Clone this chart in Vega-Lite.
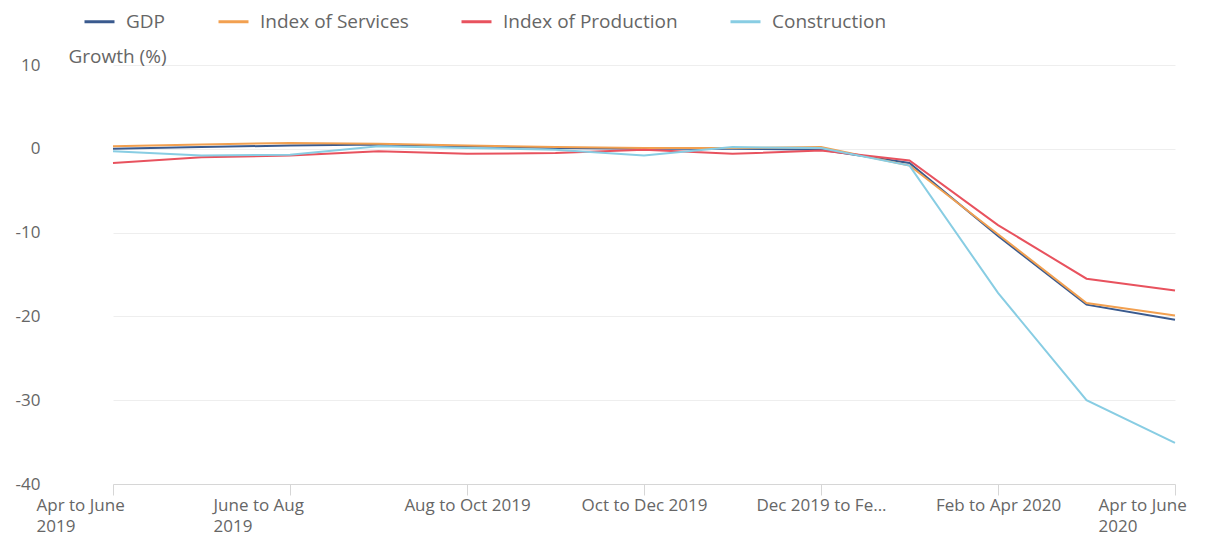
{
  "$schema": "https://vega.github.io/schema/vega-lite/v6.json",
  "width": 1144,
  "height": 419,
  "autosize": {"type": "none"},
  "padding": {"left": 68, "top": 65, "right": 0, "bottom": 51},
  "background": "white",
  "config": {
    "view": {"stroke": null},
    "font": "Open Sans",
    "axis": {"labelFont": "Open Sans", "titleFont": "Open Sans"},
    "legend": {"labelFont": "Open Sans"}
  },
  "data": {
    "values": [
      {"period": "Apr to June 2019", "series": "GDP", "growth": 0.0},
      {"period": "May to July 2019", "series": "GDP", "growth": 0.2},
      {"period": "June to Aug 2019", "series": "GDP", "growth": 0.4},
      {"period": "July to Sept 2019", "series": "GDP", "growth": 0.5},
      {"period": "Aug to Oct 2019", "series": "GDP", "growth": 0.3},
      {"period": "Sept to Nov 2019", "series": "GDP", "growth": 0.1},
      {"period": "Oct to Dec 2019", "series": "GDP", "growth": 0.0},
      {"period": "Nov 2019 to Jan 2020", "series": "GDP", "growth": 0.0},
      {"period": "Dec 2019 to Feb 2020", "series": "GDP", "growth": -0.1},
      {"period": "Jan to Mar 2020", "series": "GDP", "growth": -1.7},
      {"period": "Feb to Apr 2020", "series": "GDP", "growth": -10.4},
      {"period": "Mar to May 2020", "series": "GDP", "growth": -18.6},
      {"period": "Apr to June 2020", "series": "GDP", "growth": -20.4},

      {"period": "Apr to June 2019", "series": "Index of Services", "growth": 0.3},
      {"period": "May to July 2019", "series": "Index of Services", "growth": 0.5},
      {"period": "June to Aug 2019", "series": "Index of Services", "growth": 0.7},
      {"period": "July to Sept 2019", "series": "Index of Services", "growth": 0.6},
      {"period": "Aug to Oct 2019", "series": "Index of Services", "growth": 0.4},
      {"period": "Sept to Nov 2019", "series": "Index of Services", "growth": 0.2},
      {"period": "Oct to Dec 2019", "series": "Index of Services", "growth": 0.1},
      {"period": "Nov 2019 to Jan 2020", "series": "Index of Services", "growth": 0.1},
      {"period": "Dec 2019 to Feb 2020", "series": "Index of Services", "growth": 0.2},
      {"period": "Jan to Mar 2020", "series": "Index of Services", "growth": -2.0},
      {"period": "Feb to Apr 2020", "series": "Index of Services", "growth": -10.2},
      {"period": "Mar to May 2020", "series": "Index of Services", "growth": -18.4},
      {"period": "Apr to June 2020", "series": "Index of Services", "growth": -19.9},

      {"period": "Apr to June 2019", "series": "Index of Production", "growth": -1.7},
      {"period": "May to July 2019", "series": "Index of Production", "growth": -1.0},
      {"period": "June to Aug 2019", "series": "Index of Production", "growth": -0.8},
      {"period": "July to Sept 2019", "series": "Index of Production", "growth": -0.3},
      {"period": "Aug to Oct 2019", "series": "Index of Production", "growth": -0.6},
      {"period": "Sept to Nov 2019", "series": "Index of Production", "growth": -0.5},
      {"period": "Oct to Dec 2019", "series": "Index of Production", "growth": -0.1},
      {"period": "Nov 2019 to Jan 2020", "series": "Index of Production", "growth": -0.6},
      {"period": "Dec 2019 to Feb 2020", "series": "Index of Production", "growth": -0.2},
      {"period": "Jan to Mar 2020", "series": "Index of Production", "growth": -1.4},
      {"period": "Feb to Apr 2020", "series": "Index of Production", "growth": -9.1},
      {"period": "Mar to May 2020", "series": "Index of Production", "growth": -15.5},
      {"period": "Apr to June 2020", "series": "Index of Production", "growth": -16.9},

      {"period": "Apr to June 2019", "series": "Construction", "growth": -0.3},
      {"period": "May to July 2019", "series": "Construction", "growth": -0.8},
      {"period": "June to Aug 2019", "series": "Construction", "growth": -0.7},
      {"period": "July to Sept 2019", "series": "Construction", "growth": 0.3},
      {"period": "Aug to Oct 2019", "series": "Construction", "growth": 0.1},
      {"period": "Sept to Nov 2019", "series": "Construction", "growth": -0.1},
      {"period": "Oct to Dec 2019", "series": "Construction", "growth": -0.8},
      {"period": "Nov 2019 to Jan 2020", "series": "Construction", "growth": 0.2},
      {"period": "Dec 2019 to Feb 2020", "series": "Construction", "growth": 0.1},
      {"period": "Jan to Mar 2020", "series": "Construction", "growth": -2.0},
      {"period": "Feb to Apr 2020", "series": "Construction", "growth": -17.2},
      {"period": "Mar to May 2020", "series": "Construction", "growth": -30.0},
      {"period": "Apr to June 2020", "series": "Construction", "growth": -35.1}
    ]
  },
  "mark": {"type": "line", "strokeWidth": 2, "interpolate": "linear"},
  "encoding": {
    "x": {
      "field": "period",
      "type": "nominal",
      "sort": null,
      "scale": {"type": "point", "padding": 0, "range": [45, 1107]},
      "axis": {
        "title": null,
        "values": ["Apr to June 2019", "June to Aug 2019", "Aug to Oct 2019", "Oct to Dec 2019", "Dec 2019 to Feb 2020", "Feb to Apr 2020", "Apr to June 2020"],
        "labelExpr": "datum.value == 'Apr to June 2019' ? ['Apr to June', '2019'] : datum.value == 'June to Aug 2019' ? ['June to Aug', '2019'] : datum.value == 'Apr to June 2020' ? ['Apr to June', '2020'] : datum.value == 'Dec 2019 to Feb 2020' ? 'Dec 2019 to Fe...' : datum.label",
        "labelAngle": 0,
        "labelFontSize": 17,
        "labelColor": "#666666",
        "labelLineHeight": 21,
        "labelBaseline": "top",
        "labelPadding": 2,
        "labelOverlap": false,
        "labelBound": false,
        "labelLimit": 0,
        "labelAlign": {"condition": {"test": "indexof(['Apr to June 2019','June to Aug 2019','Apr to June 2020'], datum.value) >= 0", "value": "left"}, "value": "center"},
        "labelOffset": {"condition": {"test": "indexof(['Apr to June 2019','June to Aug 2019','Apr to June 2020'], datum.value) >= 0", "value": -77}, "value": 0},
        "domainColor": "#d6d6d6",
        "tickColor": "#d6d6d6",
        "tickSize": 11,
        "grid": false
      }
    },
    "y": {
      "field": "growth",
      "type": "quantitative",
      "scale": {"domain": [-40, 10], "nice": false, "zero": false},
      "axis": {
        "title": "Growth (%)",
        "titleAngle": 0,
        "titleAlign": "left",
        "titleBaseline": "middle",
        "titleX": 0,
        "titleY": -9,
        "titleFontSize": 19,
        "titleFontWeight": "normal",
        "titleColor": "#666666",
        "titleLimit": 0,
        "values": [-40, -30, -20, -10, 0, 10],
        "labelExpr": "'' + datum.value",
        "labelFontSize": 17,
        "labelColor": "#666666",
        "labelPadding": 28,
        "ticks": false,
        "tickSize": 0,
        "domain": false,
        "grid": true,
        "gridColor": "#eeeeee",
        "gridWidth": 1
      }
    },
    "color": {
      "field": "series",
      "type": "nominal",
      "sort": ["GDP", "Index of Services", "Index of Production", "Construction"],
      "scale": {
        "domain": ["GDP", "Index of Services", "Index of Production", "Construction"],
        "range": ["#3a5a8e", "#f2a050", "#e8525e", "#88cde3"]
      },
      "legend": {
        "title": null,
        "orient": "none",
        "direction": "horizontal",
        "legendX": 15,
        "legendY": -60,
        "symbolType": "stroke",
        "symbolSize": 900,
        "symbolStrokeWidth": 3,
        "labelFontSize": 19,
        "labelLimit": 0,
        "labelColor": "#666666",
        "labelOffset": 10,
        "columnPadding": 46,
        "padding": 0
      }
    }
  }
}
